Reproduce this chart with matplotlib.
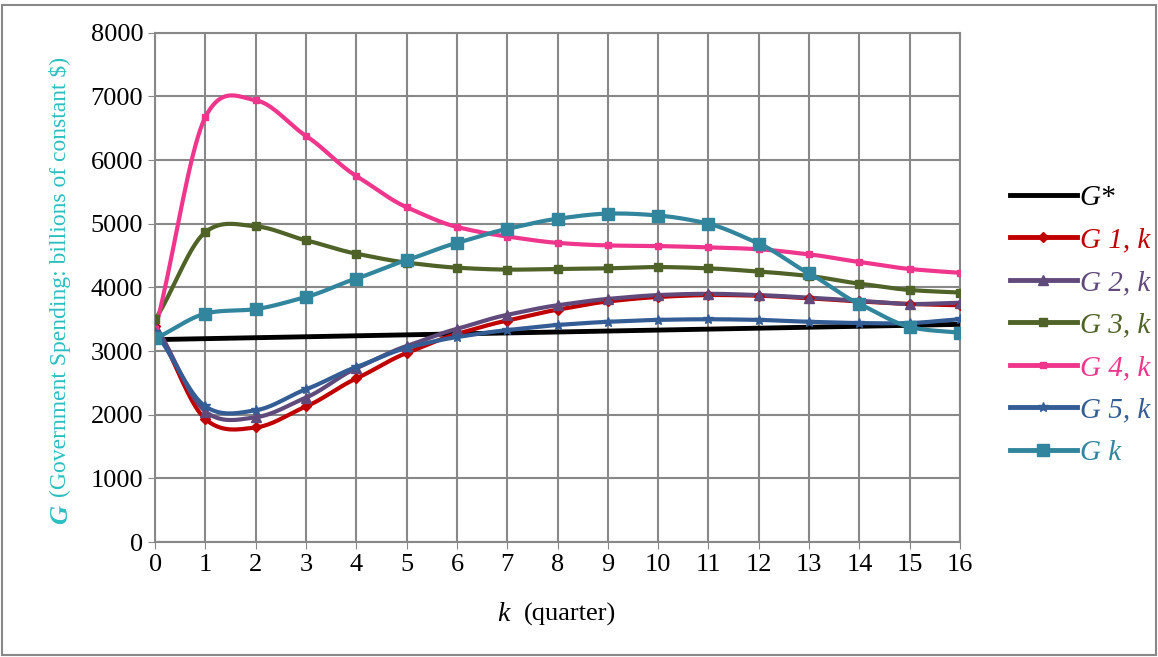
import matplotlib
matplotlib.use("Agg")
import matplotlib.pyplot as plt
import numpy as np
from matplotlib.lines import Line2D

plt.rcParams["font.family"] = ["Liberation Serif", "DejaVu Serif"]

K = list(range(17))
Y_TICKS = list(range(0, 8001, 1000))
G_STAR = [3180, 3195, 3210, 3225, 3240, 3255, 3270, 3285, 3300, 3315, 3330, 3345, 3360, 3375, 3390, 3405, 3420]
G1 = [3400, 1930, 1800, 2130, 2570, 2970, 3270, 3480, 3650, 3780, 3850, 3880, 3870, 3830, 3780, 3740, 3720]
G2 = [3400, 2050, 1960, 2270, 2730, 3080, 3350, 3570, 3720, 3820, 3880, 3900, 3880, 3840, 3790, 3740, 3760]
G3 = [3500, 4870, 4960, 4740, 4530, 4390, 4310, 4280, 4290, 4300, 4320, 4300, 4250, 4180, 4060, 3960, 3920]
G4 = [3350, 6680, 6940, 6380, 5750, 5260, 4950, 4800, 4700, 4660, 4650, 4630, 4600, 4520, 4400, 4290, 4230]
G5 = [3300, 2130, 2070, 2400, 2750, 3050, 3220, 3330, 3410, 3460, 3490, 3500, 3490, 3460, 3440, 3440, 3500]
GK = [3200, 3590, 3660, 3850, 4140, 4430, 4700, 4920, 5080, 5160, 5130, 5000, 4690, 4220, 3740, 3380, 3290]

SERIES = [
    ("G*", G_STAR, "black", None, 7),
    ("G 1, k", G1, "#C00000", "D", 5),
    ("G 2, k", G2, "#604A7B", "^", 7),
    ("G 3, k", G3, "#4F6228", "s", 6),
    ("G 4, k", G4, "#F0368C", "s", 5),
    ("G 5, k", G5, "#345D96", "*", 7),
    ("G k", GK, "#31859C", "s", 9),
]


def smooth(x, y, n=20, tension=0.85):
    # cubic Hermite curve through the points, like Excel's smoothed lines
    x = np.asarray(x, float)
    y = np.asarray(y, float)
    t = np.linspace(0, 1, n, endpoint=False)
    h00 = 2 * t**3 - 3 * t**2 + 1
    h10 = t**3 - 2 * t**2 + t
    h01 = -2 * t**3 + 3 * t**2
    h11 = t**3 - t**2
    m = np.zeros_like(y)
    m[1:-1] = (y[2:] - y[:-2]) / 2 * tension
    m[0] = (y[1] - y[0]) * tension
    m[-1] = (y[-1] - y[-2]) * tension
    xs, ys = [], []
    for i in range(len(x) - 1):
        xs.append(x[i] + t * (x[i + 1] - x[i]))
        ys.append(h00 * y[i] + h10 * m[i] + h01 * y[i + 1] + h11 * m[i + 1])
    xs.append([x[-1]])
    ys.append([y[-1]])
    return np.concatenate(xs), np.concatenate(ys)


fig = plt.figure(figsize=(11.58, 6.57), dpi=100)
ax = fig.add_axes([0.134, 0.175, 0.695, 0.775])

handles = []
for name, vals, color, marker, ms in SERIES:
    sx, sy = smooth(K, vals)
    lw = 3.5 if name == "G*" else 3
    ax.plot(sx, sy, color=color, linewidth=lw, zorder=3)
    if marker:
        ax.plot(K, vals, linestyle="none", marker=marker, color=color, markersize=ms, zorder=4)
    handles.append(Line2D([], [], color=color, linewidth=3.5, marker=marker, markersize=ms))

ax.set_xlim(0, 16)
ax.set_ylim(0, 8000)
ax.set_xticks(K)
ax.set_xticklabels([str(k) for k in K])
ax.set_yticks(Y_TICKS)
ax.set_yticklabels([str(v) for v in Y_TICKS])
ax.grid(True, color="#888888", linewidth=1.5)
ax.set_axisbelow(True)
for s in ax.spines.values():
    s.set_color("#888888")
    s.set_linewidth(1.5)
ax.tick_params(labelsize=19, length=5, color="#888888")

# x label: italic k plus plain text
fig.text(0.44, 0.055, "k", fontsize=20, fontstyle="italic", ha="right", va="baseline")
fig.text(0.452, 0.055, "(quarter)", fontsize=19, ha="left", va="baseline")

# y label: bold italic G plus the description, both teal
teal = "#2ABFBF"
fig.text(0.052, 1 - 524 / 657, "G", rotation=90, fontsize=19, color=teal,
         fontweight="bold", fontstyle="italic", ha="center", va="bottom")
fig.text(0.052, 1 - 497 / 657, "(Government Spending: billions of constant $)",
         rotation=90, fontsize=17, color=teal, ha="center", va="bottom")

labels = ["G*", "G 1, k", "G 2, k", "G 3, k", "G 4, k", "G 5, k", "G k"]
leg = fig.legend(handles, labels, loc="center left", bbox_to_anchor=(0.862, 0.505),
                 frameon=False, fontsize=21, handlelength=2.3, labelspacing=0.55,
                 handletextpad=0.1, borderaxespad=0)
for txt, (_, _, color, _, _) in zip(leg.get_texts(), SERIES):
    txt.set_color(color)
    txt.set_fontstyle("italic")

fig.patches.append(plt.Rectangle((0.002, 0.003), 0.996, 0.99, transform=fig.transFigure,
                                 fill=False, edgecolor="#888888", linewidth=1.5))
fig.savefig("out.png", dpi=100)
